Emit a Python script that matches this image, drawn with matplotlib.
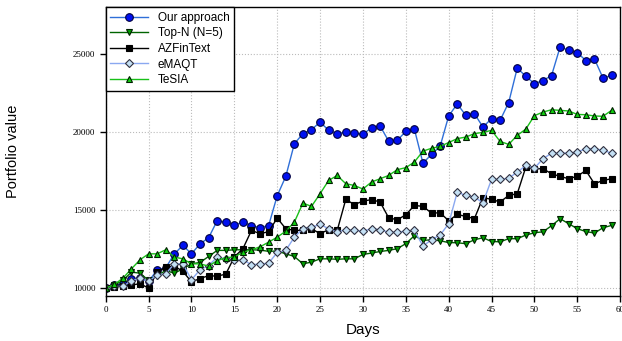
import matplotlib
matplotlib.use("Agg")
import matplotlib.pyplot as plt

days = list(range(60))

our_approach = [10000, 10190, 10250, 10600, 10650, 10430, 11180, 11300, 12200, 12740,
                12200, 12840, 13230, 14320, 14230, 14040, 14230, 14000, 13880, 14010,
                15920, 17160, 19250, 19900, 20150, 20640, 20110, 19900, 20000, 19940,
                19850, 20280, 20390, 19420, 19470, 20040, 20190, 18010, 18570, 19080,
                21030, 21800, 21070, 21180, 20320, 20860, 20750, 21890, 24100, 23570,
                23100, 23300, 23620, 25450, 25240, 25090, 24580, 24690, 23460, 23630]

top_n = [10000, 10200, 10500, 11030, 10960, 10500, 10810, 11130, 10960, 11240,
         11560, 11650, 12030, 12420, 12420, 12460, 12460, 12460, 12440, 12360,
         12380, 12200, 12030, 11560, 11670, 11880, 11880, 11850, 11880, 11880,
         12160, 12250, 12350, 12420, 12530, 12850, 13360, 13060, 13100, 13040,
         12920, 12910, 12850, 13100, 13230, 12990, 12970, 13170, 13170, 13400,
         13550, 13610, 14000, 14450, 14130, 13810, 13630, 13530, 13870, 14020]

azfintext = [10000, 10100, 10120, 10200, 10290, 10000, 11030, 11350, 11410, 11080,
             10400, 10620, 10800, 10770, 10900, 12000, 12530, 13700, 13490, 13620,
             14490, 13810, 13700, 13700, 13810, 13490, 13750, 13700, 15690, 15350,
             15580, 15670, 15520, 14510, 14380, 14700, 15300, 15240, 14810, 14830,
             14320, 14720, 14600, 14450, 15800, 15690, 15520, 15940, 16050, 17760,
             17650, 17650, 17330, 17160, 17010, 17170, 17540, 16690, 16900, 17010]

emaqt = [10000, 10110, 10110, 10490, 10640, 10430, 10860, 10920, 11560, 11560,
         10540, 11180, 11450, 11990, 11880, 11780, 11820, 11500, 11550, 11600,
         12290, 12420, 13270, 13810, 13910, 14080, 13810, 13590, 13750, 13700,
         13650, 13810, 13750, 13590, 13590, 13650, 13700, 12700, 13100, 13400,
         14130, 16150, 15940, 15830, 15470, 16970, 16970, 17050, 17430, 17860,
         17690, 18290, 18650, 18650, 18650, 18720, 18940, 18940, 18830, 18650]

tesia = [10000, 10240, 10640, 11240, 11820, 12200, 12200, 12460, 11990, 11880,
         11560, 11560, 11410, 11770, 11950, 12000, 12300, 12460, 12650, 12950,
         13270, 13650, 14230, 15450, 15240, 16050, 16900, 17220, 16690, 16580,
         16350, 16800, 17010, 17220, 17590, 17720, 18080, 18780, 18960, 19080,
         19330, 19580, 19680, 19900, 19980, 20110, 19400, 19210, 19790, 20190,
         21050, 21280, 21430, 21390, 21350, 21130, 21110, 21030, 21010, 21390]

fig = plt.figure(figsize=(6.22, 3.41), dpi=100)
ax = fig.add_axes([0.170, 0.132, 0.827, 0.847])

ax.plot(days, our_approach, color="#2f6fd8", lw=1, marker="o", ms=5.5,
        mfc="#0010f0", mec="#000040", mew=0.8, label="Our approach")
ax.plot(days, top_n, color="#006400", lw=1, marker="v", ms=5,
        mfc="#00a000", mec="#002000", mew=0.8, label="Top-N (N=5)")
ax.plot(days, azfintext, color="black", lw=1, marker="s", ms=5,
        mfc="black", mec="black", mew=0.8, label="AZFinText")
ax.plot(days, emaqt, color="#8aa8f0", lw=1, marker="D", ms=4.5,
        mfc="#c4e0f4", mec="#303040", mew=0.8, label="eMAQT")
ax.plot(days, tesia, color="#18c018", lw=1, marker="^", ms=5,
        mfc="#10d010", mec="#002000", mew=0.8, label="TeSIA")

ax.set_xlim(0, 60)
ax.set_ylim(9500, 28000)
ax.set_xticks(range(0, 61, 5))
ax.set_yticks([10000, 15000, 20000, 25000])
ax.grid(True, ls=":", color="#bbbbbb", lw=0.8)
ax.tick_params(direction="out", length=4, width=1, labelsize=6.5)
for lab in ax.get_xticklabels() + ax.get_yticklabels():
    lab.set_family("Liberation Serif")
for s in ax.spines.values():
    s.set_linewidth(1)

ax.set_xlabel("Days", fontsize=11, family="Liberation Sans", labelpad=6)
ax.set_ylabel("Portfolio value", fontsize=10.5, family="Liberation Sans", labelpad=38)

leg = ax.legend(loc="upper left", borderaxespad=0, fancybox=False,
                framealpha=1, edgecolor="black", prop={"family": "Liberation Sans", "size": 8.5},
                handlelength=3.2, labelspacing=0.3, borderpad=0.4)
leg.get_frame().set_linewidth(1)

fig.savefig("out.png", dpi=100)
